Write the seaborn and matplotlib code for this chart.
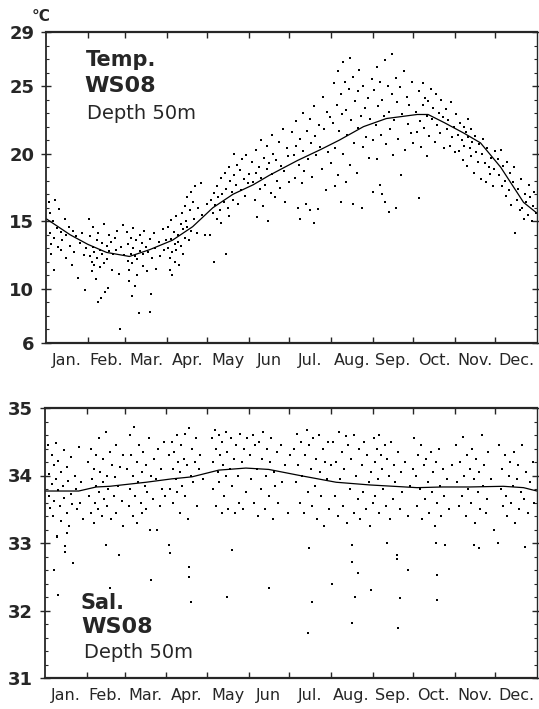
import pandas as pd
import seaborn as sns
import matplotlib.pyplot as plt
from matplotlib.ticker import MultipleLocator

months = ["Jan.", "Feb.", "Mar.", "Apr.", "May", "Jun", "Jul.", "Aug.", "Sep.", "Oct.", "Nov.", "Dec."]
month_bounds = [0, 31, 59, 90, 120, 151, 181, 212, 243, 273, 304, 334, 365]

# temperature at 50m, (day of year, deg C)
temp_jan = [(2,16.4),(3,15.6),(3,14.1),(4,13.3),(4,12.6),(5,15.0),(6,13.8),(6,11.4),(7,16.6),(8,14.5),(9,13.1),(10,15.9),(11,14.2),(11,12.9),(12,13.6),(14,15.2),(15,14.0),(15,12.3),(17,14.6),(18,13.2),(19,11.8),(20,14.3),(21,12.7),(22,13.9),(24,10.8),(25,13.4),(27,14.1),(28,12.5),(29,9.9),(30,13.0)]
temp_feb = [(32,15.2),(33,13.9),(33,12.4),(34,12.0),(34,11.3),(35,14.6),(35,13.1),(36,12.7),(36,11.8),(37,10.7),(38,13.6),(38,12.3),(39,9.0),(39,14.1),(40,12.9),(40,11.6),(41,9.3),(42,13.4),(42,12.6),(43,14.8),(43,11.9),(44,9.8),(45,13.2),(45,12.2),(46,10.1),(47,14.0),(47,12.8),(48,13.5),(49,11.4),(50,12.6),(51,13.8),(52,12.9),(53,14.3),(54,11.1),(55,7.0),(56,13.1),(57,14.7),(58,12.5)]
temp_mar = [(60,14.2),(61,13.3),(61,12.1),(62,11.4),(62,10.6),(63,13.8),(63,12.6),(64,11.9),(64,9.5),(65,14.5),(65,13.0),(66,12.4),(66,10.2),(67,13.6),(68,12.2),(68,11.0),(69,8.2),(70,14.0),(70,12.8),(71,13.4),(72,11.7),(72,12.6),(73,14.3),(74,13.1),(75,11.3),(76,12.7),(77,8.3),(77,13.7),(78,9.6),(79,12.3),(80,14.1),(81,13.0),(82,11.5),(84,13.5),(85,12.4),(87,14.4),(88,12.9),(89,13.6)]
temp_apr = [(91,14.6),(91,13.0),(92,12.3),(92,11.4),(93,15.1),(93,13.7),(94,12.7),(94,11.0),(95,14.2),(96,13.3),(96,12.0),(97,15.4),(97,12.9),(98,14.0),(98,13.5),(99,11.8),(100,14.8),(100,13.2),(101,15.6),(102,14.4),(102,12.6),(103,16.1),(103,13.8),(104,15.0),(105,16.8),(105,14.6),(106,13.6),(107,15.8),(108,17.2),(108,14.3),(109,16.4),(110,15.2),(111,17.6),(112,14.1),(113,16.0),(115,17.8),(116,15.5),(118,14.0),(120,16.3)]
temp_may = [(122,14.0),(123,16.6),(124,15.6),(125,17.1),(125,12.0),(126,16.2),(127,15.2),(127,17.6),(128,16.8),(129,15.8),(130,18.2),(130,14.9),(131,17.0),(132,16.4),(133,18.6),(134,12.6),(134,17.4),(135,16.0),(136,19.0),(136,15.4),(137,18.0),(138,17.2),(139,16.6),(140,20.0),(140,18.4),(141,17.7),(142,19.2),(143,16.3),(144,18.8),(145,17.3),(146,19.6),(147,18.1),(148,16.9),(149,19.9),(150,17.8),(151,18.5)]
temp_jun = [(153,19.4),(154,17.9),(155,16.6),(156,20.3),(156,18.6),(157,15.3),(158,19.0),(159,17.4),(160,21.0),(160,18.2),(161,16.1),(162,19.7),(163,17.7),(164,20.6),(164,18.9),(165,15.0),(166,19.3),(167,17.1),(168,21.4),(168,18.5),(169,20.0),(170,16.8),(171,19.5),(172,18.0),(173,20.9),(174,17.5),(175,19.1),(176,21.8),(177,18.7),(178,16.4),(179,20.4),(180,19.8),(181,17.9)]
temp_jul = [(183,21.6),(184,19.9),(185,18.2),(186,22.4),(186,20.6),(187,16.0),(188,19.2),(189,21.1),(189,15.2),(190,17.8),(191,23.0),(191,20.2),(192,18.7),(193,16.3),(194,21.7),(195,19.6),(196,22.6),(196,15.8),(197,20.8),(198,18.3),(199,23.5),(199,14.9),(200,21.3),(201,19.9),(202,15.9),(203,22.1),(204,20.5),(205,18.9),(206,24.2),(207,21.8),(208,17.3),(209,23.1),(210,20.1),(211,22.7),(212,19.3)]
temp_aug = [(213,22.3),(214,25.2),(215,20.4),(215,17.6),(216,23.6),(217,26.1),(217,18.4),(218,21.7),(219,24.4),(219,16.4),(220,22.9),(221,26.8),(221,20.0),(222,25.3),(223,23.2),(223,17.9),(224,21.4),(225,24.8),(226,19.2),(226,27.1),(227,22.5),(228,25.7),(228,16.3),(229,20.8),(230,23.9),(231,18.6),(232,24.6),(232,21.9),(233,26.2),(234,22.8),(235,16.0),(236,25.0),(236,20.5),(237,23.4),(238,21.2),(239,24.1),(240,19.7),(241,22.6),(242,25.5),(243,21.0),(243,17.2)]
temp_sep = [(244,24.7),(245,22.1),(246,26.4),(246,19.6),(247,23.5),(248,25.3),(248,17.7),(249,21.4),(250,24.0),(250,17.0),(251,22.8),(252,26.9),(252,16.4),(253,20.7),(254,25.0),(255,23.1),(255,15.7),(256,21.8),(257,27.4),(257,24.4),(258,19.9),(259,22.5),(260,25.6),(260,16.0),(261,23.8),(262,21.1),(263,24.9),(264,18.4),(265,22.9),(266,26.1),(267,20.3),(268,24.2),(269,22.2),(270,23.6),(271,21.5),(272,25.3),(273,20.8)]
temp_oct = [(275,23.1),(276,21.6),(277,16.7),(277,24.6),(278,22.4),(279,20.5),(280,25.2),(280,23.6),(281,21.9),(282,24.1),(283,19.8),(283,22.8),(284,23.9),(285,21.3),(286,24.8),(287,22.6),(288,23.4),(289,20.9),(290,24.4),(291,22.1),(292,23.0),(293,21.5),(294,24.0),(295,22.7),(296,20.4),(297,23.3),(298,21.8),(299,22.5),(300,20.6),(301,23.8),(302,21.2),(303,22.0),(304,20.1)]
temp_nov = [(305,22.9),(306,21.4),(307,20.2),(308,22.3),(309,21.0),(310,19.5),(311,22.0),(311,20.6),(312,21.6),(313,19.1),(314,21.2),(314,22.6),(315,20.4),(316,21.8),(316,19.8),(317,20.9),(318,18.6),(319,21.3),(320,20.1),(321,19.4),(322,20.7),(323,18.1),(324,20.0),(325,21.1),(326,19.3),(327,17.9),(328,20.4),(329,19.0),(330,18.5),(331,19.7),(332,17.6),(333,18.9),(334,20.2)]
temp_dec = [(336,19.6),(337,18.4),(338,20.3),(339,17.6),(340,19.1),(341,18.0),(342,16.9),(343,19.4),(344,17.3),(345,18.6),(346,16.2),(347,17.9),(348,19.0),(349,14.1),(350,16.6),(351,17.4),(352,15.8),(353,18.1),(354,16.0),(355,15.2),(356,17.0),(357,16.4),(358,15.5),(359,17.7),(360,16.8),(361,15.0),(362,16.1),(363,17.2),(364,15.6)]

# smoothed mean temperature
temp_curve_day = [0, 18, 31, 45, 62, 77, 94, 109, 124, 139, 154, 166, 187, 204, 218, 236, 253, 276, 284, 296, 311, 323, 338, 355, 365]
temp_curve_val = [15.2, 14.0, 13.3, 12.7, 12.4, 12.9, 13.6, 14.6, 16.0, 17.0, 17.7, 18.4, 19.5, 20.3, 21.0, 22.0, 22.6, 22.9, 22.9, 22.3, 21.5, 20.8, 19.0, 16.4, 15.6]

# salinity at 50m, (day of year, psu)
sal_jan = [(2,34.45),(3,34.02),(3,33.70),(4,33.52),(5,34.30),(5,33.88),(6,33.40),(7,34.15),(7,33.62),(8,34.48),(8,33.95),(9,33.10),(10,33.78),(10,34.22),(11,33.55),(12,34.05),(12,33.32),(13,33.85),(14,34.38),(14,33.66),(15,32.95),(16,34.12),(16,33.45),(17,33.92),(18,33.25),(19,34.28),(19,33.72),(20,33.58),(21,32.70),(22,34.00),(23,33.80),(24,33.50),(25,34.42),(26,33.60),(27,33.90),(28,33.35),(7,32.60),(10,32.23),(15,32.87),(9,33.09),(16,33.15)]
sal_feb = [(32,34.20),(33,33.70),(34,34.40),(34,33.45),(35,33.95),(36,34.10),(36,33.30),(37,33.60),(38,34.30),(38,33.85),(39,33.50),(40,34.55),(40,33.75),(41,34.05),(42,33.40),(43,33.90),(43,34.25),(44,33.65),(45,32.97),(45,34.64),(46,34.00),(46,33.55),(47,33.80),(48,32.33),(48,34.35),(49,33.35),(50,34.15),(51,33.70),(52,33.98),(53,34.45),(53,33.45),(54,33.85),(55,32.82),(56,34.12),(57,33.62),(58,34.30),(58,33.25)]
sal_mar = [(61,34.10),(62,33.55),(63,34.60),(63,33.80),(64,34.30),(65,33.40),(65,34.00),(66,34.72),(67,33.70),(68,34.20),(68,33.30),(69,33.90),(70,34.45),(71,33.60),(72,34.05),(72,33.45),(73,34.35),(74,33.85),(75,34.15),(75,33.50),(76,33.75),(77,34.55),(78,33.20),(79,32.45),(79,34.00),(80,33.65),(81,34.25),(82,33.95),(83,33.20),(84,34.40),(85,33.55),(86,34.10),(87,33.80),(88,34.50),(89,33.70)]
sal_apr = [(92,34.30),(92,32.97),(93,32.85),(93,33.80),(94,34.50),(95,34.10),(95,33.60),(96,34.35),(97,33.95),(98,34.60),(98,33.75),(99,34.20),(100,34.05),(100,33.45),(101,34.45),(102,33.85),(103,34.25),(104,34.62),(104,33.70),(105,34.15),(106,33.35),(107,34.70),(107,32.65),(107,32.50),(108,32.13),(108,34.00),(109,34.40),(110,33.90),(111,34.20),(112,34.55),(113,33.55),(114,34.10),(115,34.30),(117,33.95)]
sal_may = [(124,34.55),(125,34.20),(125,33.80),(126,34.68),(127,34.40),(127,33.55),(128,34.05),(129,34.60),(129,33.90),(130,34.30),(131,33.45),(131,34.50),(132,34.15),(133,33.70),(134,34.65),(134,34.00),(135,32.20),(135,34.35),(136,33.50),(137,34.10),(138,34.55),(139,32.90),(139,33.85),(140,34.25),(141,33.45),(142,34.45),(143,34.00),(144,33.60),(145,34.62),(146,34.20),(147,33.50),(148,34.40),(149,33.75),(150,34.55)]
sal_jun = [(152,34.30),(153,33.95),(154,34.60),(155,33.60),(156,34.45),(157,34.10),(158,33.40),(159,34.50),(160,33.80),(161,34.25),(162,34.65),(163,33.50),(164,34.00),(165,34.40),(166,32.33),(166,33.70),(167,34.20),(168,34.55),(169,33.35),(170,34.05),(171,33.85),(172,34.35),(173,33.60),(175,34.45),(176,33.90),(178,34.15),(180,33.45),(182,34.30)]
sal_jul = [(185,34.40),(186,33.90),(187,34.62),(188,34.15),(189,33.60),(190,34.50),(191,34.00),(192,33.45),(193,34.30),(194,34.68),(195,31.67),(195,33.75),(196,32.93),(196,34.45),(197,34.10),(198,32.13),(198,33.55),(199,34.55),(200,33.85),(201,34.25),(202,33.35),(203,34.60),(204,34.05),(205,33.70),(206,34.40),(207,33.25),(208,34.20),(209,33.95),(210,34.50),(211,33.50),(212,34.15),(213,32.40)]
sal_aug = [(214,34.50),(215,33.70),(216,34.20),(217,33.40),(218,34.65),(219,33.95),(220,34.35),(221,33.55),(222,34.10),(223,34.58),(224,33.30),(225,34.45),(226,33.80),(227,34.25),(228,32.97),(228,32.72),(228,31.81),(229,34.60),(229,33.45),(230,32.20),(231,34.00),(232,32.55),(232,33.65),(233,34.40),(234,33.35),(235,34.15),(236,33.75),(237,34.50),(238,33.50),(239,34.30),(240,33.90),(241,33.25),(242,32.30),(242,34.05),(243,33.60)]
sal_sep = [(244,34.55),(245,34.20),(245,33.70),(246,34.40),(247,33.95),(248,34.60),(248,33.45),(249,34.30),(250,34.10),(251,33.80),(252,34.45),(253,33.55),(254,33.00),(254,34.25),(255,34.00),(256,33.35),(257,34.50),(258,33.65),(259,34.15),(260,33.90),(261,32.82),(261,32.76),(262,31.74),(262,34.35),(263,32.18),(263,33.50),(264,34.05),(265,33.75),(267,34.20),(269,32.60),(269,33.40),(271,33.85),(273,34.10)]
sal_oct = [(274,34.55),(275,34.00),(276,33.55),(277,34.30),(278,33.80),(279,34.45),(280,33.35),(281,34.15),(282,33.65),(283,34.25),(284,33.90),(285,33.45),(286,34.35),(287,33.75),(288,34.05),(289,33.25),(290,33.00),(290,34.20),(291,32.52),(291,32.16),(291,33.60),(292,34.40),(293,33.85),(294,33.40),(295,34.10),(296,33.70),(297,32.97),(298,33.95),(300,33.50),(302,34.15)]
sal_nov = [(305,34.45),(306,33.90),(307,33.55),(308,34.20),(309,33.70),(310,34.57),(311,34.00),(312,33.40),(313,34.30),(314,33.80),(315,34.10),(316,33.60),(317,34.40),(318,32.97),(318,33.95),(319,33.30),(320,34.25),(321,33.75),(322,32.92),(322,34.05),(323,33.50),(324,34.60),(325,33.85),(326,34.15),(327,33.45),(328,33.65),(329,34.35),(331,33.95),(333,33.20)]
sal_dec = [(336,33.00),(337,34.45),(338,33.80),(339,34.10),(340,33.55),(341,34.30),(342,33.70),(343,33.40),(344,34.00),(345,34.20),(346,33.60),(347,33.85),(348,34.35),(349,33.30),(350,33.95),(351,34.15),(352,33.50),(353,33.75),(354,34.45),(355,33.65),(356,32.94),(357,34.05),(358,33.45),(360,33.90),(362,34.20),(363,33.60)]

# smoothed mean salinity
sal_curve_day = [0, 25, 38, 48, 75, 94, 109, 129, 149, 166, 189, 216, 241, 276, 295, 315, 340, 355, 365]
sal_curve_val = [33.77, 33.77, 33.83, 33.84, 33.90, 33.95, 33.98, 34.08, 34.11, 34.09, 34.00, 33.90, 33.86, 33.82, 33.83, 33.83, 33.84, 33.82, 33.77]

df_t = pd.DataFrame(temp_jan + temp_feb + temp_mar + temp_apr + temp_may + temp_jun +
                    temp_jul + temp_aug + temp_sep + temp_oct + temp_nov + temp_dec,
                    columns=["day", "val"])
df_s = pd.DataFrame(sal_jan + sal_feb + sal_mar + sal_apr + sal_may + sal_jun +
                    sal_jul + sal_aug + sal_sep + sal_oct + sal_nov + sal_dec,
                    columns=["day", "val"])

sns.set_style("ticks")
plt.rcParams["font.family"] = ["DejaVu Sans"]

W, H = 539, 709
fig = plt.figure(figsize=(W / 100, H / 100), dpi=100)


def px(x, y):
    return x / W, 1 - y / H


def axes_px(left, top, right, bottom):
    return fig.add_axes([left / W, 1 - bottom / H, (right - left) / W, (bottom - top) / H])


ax1 = axes_px(46, 32, 537, 343)
ax2 = axes_px(45, 408, 537, 678)


def style(ax, ylo, yhi, yticks, minor):
    ax.set_xlim(0, 365)
    ax.set_ylim(ylo, yhi)
    mids = [(a + b) / 2 for a, b in zip(month_bounds[:-1], month_bounds[1:])]
    ax.set_xticks(month_bounds[1:-1])
    ax.set_xticklabels([])
    ax.set_xticks(mids, minor=True)
    ax.set_xticklabels(months, minor=True, fontsize=11.5)
    ax.tick_params(axis="x", which="major", direction="in", length=4, width=1, top=True, bottom=True)
    ax.tick_params(axis="x", which="minor", length=0, pad=7)
    ax.set_yticks(yticks)
    ax.set_yticklabels([str(t) for t in yticks], fontsize=13, fontweight="bold")
    ax.yaxis.set_minor_locator(MultipleLocator(minor))
    ax.tick_params(axis="y", which="major", direction="inout", length=7, width=1, right=True, pad=5)
    ax.tick_params(axis="y", which="minor", direction="in", length=2.5, width=0.8, right=True)
    ax.set_xlabel("")
    ax.set_ylabel("")
    for side in ["top", "bottom"]:
        ax.spines[side].set_linewidth(1.6)
    ax.spines["left"].set_linewidth(1.3)
    ax.spines["right"].set_linewidth(1.0)


sns.scatterplot(data=df_t, x="day", y="val", ax=ax1, color="black", marker="s", s=2.2, linewidth=0, legend=False)
sns.lineplot(x=temp_curve_day, y=temp_curve_val, ax=ax1, color="black", linewidth=0.9)
style(ax1, 6, 29, [6, 10, 15, 20, 25, 29], 1)

sns.scatterplot(data=df_s, x="day", y="val", ax=ax2, color="black", marker="s", s=2.2, linewidth=0, legend=False)
sns.lineplot(x=sal_curve_day, y=sal_curve_val, ax=ax2, color="black", linewidth=0.9)
style(ax2, 31, 35, [31, 32, 33, 34, 35], 0.2)

fig.text(*px(32, 9), "°C", fontsize=11, fontweight="bold", va="top", ha="left")

fig.text(*px(86, 50), "Temp.", fontsize=15, fontweight="bold", va="top")
fig.text(*px(84, 76), "WS08", fontsize=16, fontweight="bold", va="top")
fig.text(*px(87, 104), "Depth 50m", fontsize=14, va="top")

fig.text(*px(81, 593), "Sal.", fontsize=15, fontweight="bold", va="top")
fig.text(*px(81, 617), "WS08", fontsize=16, fontweight="bold", va="top")
fig.text(*px(84, 643), "Depth 50m", fontsize=14, va="top")

fig.savefig("out.png", dpi=100)
